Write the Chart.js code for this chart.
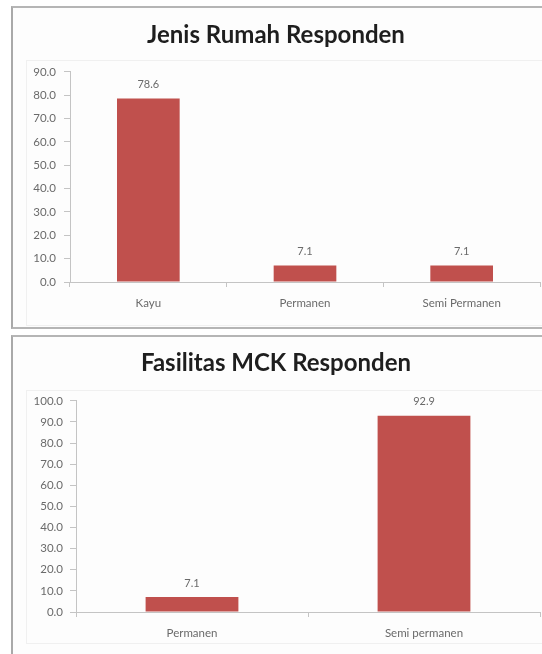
<!DOCTYPE html>
<html>
<head>
<meta charset="utf-8">
<script src="https://cdn.jsdelivr.net/npm/chart.js@4.4.1/dist/chart.umd.min.js"></script>
<style>
  html, body { margin: 0; padding: 0; background: #ffffff; }
  body { width: 542px; height: 654px; position: relative; overflow: hidden; }
  .frame { position: absolute; box-sizing: border-box; background: #fdfdfd;
           border-left: 2px solid #a9a9a9; border-top: 2px solid #b5b5b5; border-bottom: 2px solid #b5b5b5; }
  .inner { position: absolute; box-sizing: border-box; border: 1px solid #f0f0f0; }
  .wrap { position: absolute; }
</style>
</head>
<body>
<div class="frame" style="left:11px; top:6px; width:540px; height:323px;"></div>
<div class="inner" style="left:26px; top:60px; width:520px; height:266px;"></div>
<div class="frame" style="left:11px; top:335px; width:540px; height:325px;"></div>
<div class="inner" style="left:26px; top:390px; width:520px; height:254px;"></div>

<div class="wrap" style="left:12px; top:6px; width:530px; height:322px;"><canvas id="c1"></canvas></div>
<div class="wrap" style="left:12px; top:336px; width:530px; height:318px;"><canvas id="c2"></canvas></div>

<script>
// ---- data ----
const rumahTitle = 'Jenis Rumah Responden';
const rumahLabels = ['Kayu', 'Permanen', 'Semi Permanen'];
const rumahValues = [78.6, 7.1, 7.1];

const mckTitle = 'Fasilitas MCK Responden';
const mckLabels = ['Permanen', 'Semi permanen'];
const mckValues = [7.1, 92.9];

const rumahMax = 90;
const mckMax = 100;
const tickStep = 10;

// ---- styling ----
const barColor = '#C0504D';
const textColor = '#6a6a6a';
const axisColor = '#c4c4c4';
const fontFamily = 'Lato, "Open Sans", sans-serif';

const valueLabels = {
  id: 'valueLabels',
  afterDatasetsDraw(chart) {
    const ctx = chart.ctx;
    ctx.save();
    ctx.font = '11px ' + fontFamily;
    ctx.fillStyle = textColor;
    ctx.textAlign = 'center';
    ctx.textBaseline = 'middle';
    chart.data.datasets.forEach((ds, di) => {
      chart.getDatasetMeta(di).data.forEach((bar, i) => {
        ctx.fillText(ds.data[i].toFixed(1), bar.x, bar.y - 14);
      });
    });
    ctx.restore();
  }
};

function makeChart(id, title, labels, values, max, cfg) {
  return new Chart(document.getElementById(id), {
    type: 'bar',
    data: {
      labels: labels,
      datasets: [{
        data: values,
        backgroundColor: barColor,
        borderWidth: 0,
        barPercentage: 0.4,
        categoryPercentage: 1.0
      }]
    },
    options: {
      responsive: true,
      maintainAspectRatio: false,
      animation: false,
      layout: { padding: { left: 0, right: 2, top: 0, bottom: 0 } },
      plugins: {
        legend: { display: false },
        tooltip: { enabled: false },
        title: {
          display: true,
          text: title,
          color: '#1e1e1e',
          font: { family: fontFamily, size: 24, weight: 'bold' },
          padding: { top: cfg.titleTop, bottom: cfg.titleBottom }
        }
      },
      scales: {
        x: {
          grid: { display: true, drawOnChartArea: false, drawTicks: true, tickLength: 5, color: axisColor, offset: true },
          border: { display: true, color: axisColor, width: 1 },
          ticks: { color: textColor, font: { family: fontFamily, size: 11.5 }, padding: 9, maxRotation: 0 },
          afterFit(scale) { scale.height = cfg.xHeight; }
        },
        y: {
          min: 0,
          max: max,
          grid: { display: true, drawOnChartArea: false, drawTicks: true, tickLength: 6, color: axisColor },
          border: { display: true, color: axisColor, width: 1 },
          ticks: {
            stepSize: tickStep,
            color: textColor,
            font: { family: fontFamily, size: 11.5 },
            padding: cfg.yPad,
            callback: (v) => Number(v).toFixed(1)
          },
          afterFit(scale) { scale.width = cfg.yWidth; }
        }
      }
    },
    plugins: [valueLabels]
  });
}

makeChart('c1', rumahTitle, rumahLabels, rumahValues, rumahMax,
  { titleTop: 15, titleBottom: 22, xHeight: 46, yWidth: 58, yPad: 8 });
makeChart('c2', mckTitle, mckLabels, mckValues, mckMax,
  { titleTop: 13, titleBottom: 23, xHeight: 42, yWidth: 64, yPad: 7 });
</script>
</body>
</html>
